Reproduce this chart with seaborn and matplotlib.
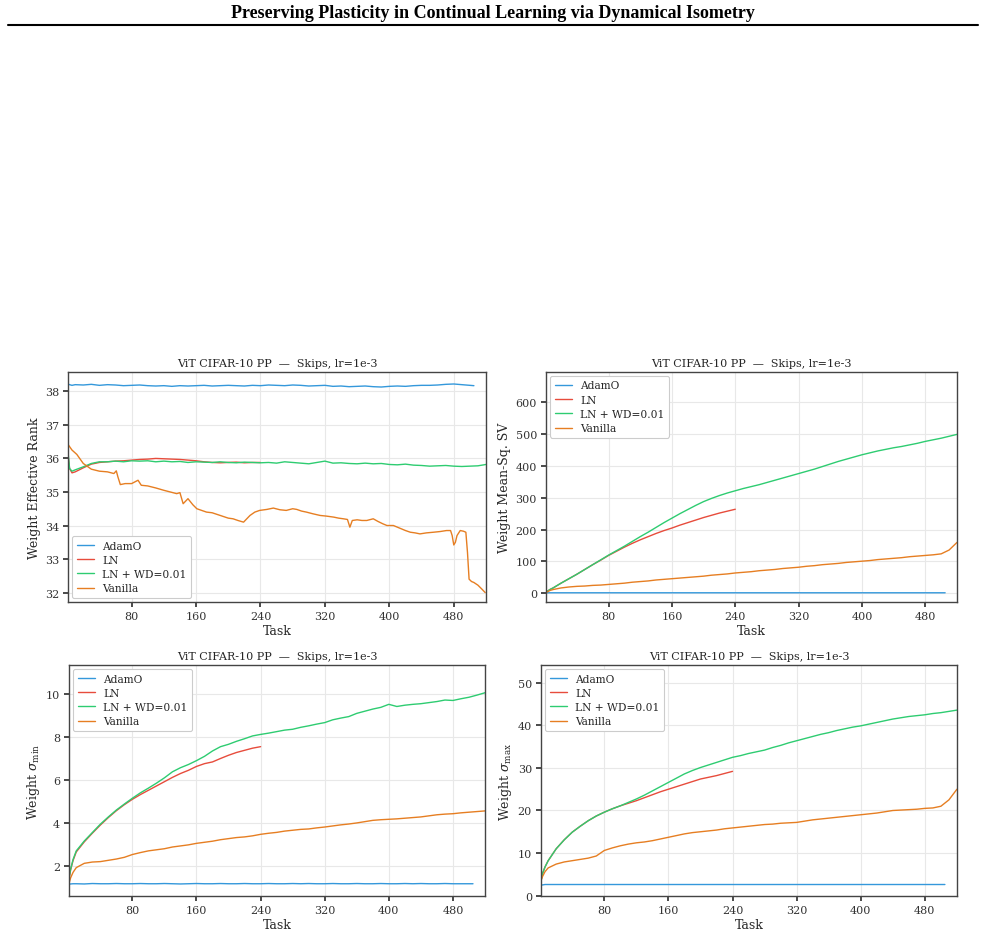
import pandas as pd
import matplotlib.pyplot as plt
import seaborn as sns

# ---- data ----
methods = ["AdamO", "LN", "LN + WD=0.01", "Vanilla"]
colors = ["#3498db", "#e74c3c", "#2ecc71", "#e67e22"]

# common task grid: 1, 3, 6, 10, 20, ..., 520
task_grid = [1, 3, 6] + list(range(10, 521, 10))
task_ln = task_grid[:27]               # LN stops at task 240
task_adamo = task_grid[:53] + [505]    # AdamO stops at task 505

# weight effective rank
rank_adamo = [38.22, 38.20, 38.18,
              38.20, 38.19, 38.21, 38.18, 38.20, 38.19, 38.17, 38.18, 38.19, 38.17,
              38.16, 38.17, 38.15, 38.17, 38.16, 38.17, 38.18, 38.16, 38.17, 38.18,
              38.17, 38.16, 38.18, 38.17, 38.19, 38.18, 38.17, 38.19, 38.18, 38.16,
              38.17, 38.18, 38.15, 38.16, 38.14, 38.15, 38.16, 38.14, 38.13, 38.15,
              38.16, 38.15, 38.17, 38.18, 38.18, 38.19, 38.21, 38.22, 38.20, 38.18,
              38.17]
rank_ln = [36.10, 35.70, 35.57,
           35.60, 35.72, 35.83, 35.88, 35.90, 35.92, 35.93, 35.95, 35.97, 35.98,
           36.00, 35.99, 35.98, 35.97, 35.95, 35.93, 35.90, 35.88, 35.87, 35.88,
           35.89, 35.87, 35.88, 35.88]
rank_lnwd = [36.20, 35.70, 35.62,
             35.66, 35.75, 35.85, 35.90, 35.90, 35.92, 35.90, 35.93, 35.92, 35.93,
             35.90, 35.92, 35.90, 35.91, 35.88, 35.90, 35.89, 35.88, 35.90, 35.88,
             35.87, 35.89, 35.88, 35.87, 35.88, 35.86, 35.90, 35.88, 35.86, 35.84,
             35.88, 35.92, 35.86, 35.87, 35.85, 35.84, 35.86, 35.84, 35.85, 35.82,
             35.81, 35.83, 35.80, 35.79, 35.77, 35.78, 35.79, 35.77, 35.76, 35.77,
             35.78, 35.82]
task_rank_van = [1, 6, 12, 20, 30, 40, 50, 58, 61, 63, 66, 72, 80, 88, 92, 100,
                 110, 120, 128, 136, 140, 144, 150, 156, 161, 167, 173, 180, 190,
                 200, 206, 212, 219, 227, 233, 239, 248, 256, 264, 272, 280, 285,
                 291, 297, 305, 314, 322, 331, 337, 343, 348, 351, 354, 360, 366,
                 372, 380, 386, 392, 397, 405, 413, 420, 426, 432, 438, 446, 455,
                 463, 471, 476, 478, 480, 482, 484, 488, 492, 495, 497, 499, 502,
                 505, 510, 515, 519]
rank_van = [36.42, 36.25, 36.12, 35.85, 35.68, 35.62, 35.60, 35.55, 35.63, 35.45,
            35.22, 35.25, 35.25, 35.35, 35.20, 35.18, 35.12, 35.05, 35.00, 34.95,
            34.98, 34.65, 34.80, 34.62, 34.50, 34.45, 34.40, 34.38, 34.30, 34.22,
            34.20, 34.15, 34.10, 34.30, 34.40, 34.45, 34.48, 34.52, 34.47, 34.45,
            34.50, 34.48, 34.43, 34.40, 34.35, 34.30, 34.28, 34.25, 34.22, 34.20,
            34.18, 33.95, 34.15, 34.17, 34.15, 34.15, 34.20, 34.12, 34.05, 34.00,
            34.00, 33.92, 33.85, 33.80, 33.78, 33.75, 33.78, 33.80, 33.82, 33.85,
            33.85, 33.70, 33.42, 33.50, 33.70, 33.85, 33.83, 33.80, 33.20, 32.40,
            32.33, 32.30, 32.22, 32.10, 32.00]

# weight mean-squared singular value
sv_adamo = [1.6, 1.7, 1.8] + [1.8] * 51
sv_ln = [3, 7, 12,
         17, 32, 46, 60, 75, 90, 104, 119, 132, 145,
         157, 168, 178, 188, 197, 205, 214, 222, 230, 238,
         245, 252, 258, 264]
sv_lnwd = [3, 7, 12,
           17, 32, 46, 60, 75, 90, 105, 120, 134, 148,
           163, 178, 192, 207, 222, 236, 250, 263, 276, 288,
           298, 307, 315, 322, 329, 335, 341, 348, 355, 362,
           369, 376, 383, 390, 398, 406, 414, 421, 428, 435,
           441, 447, 452, 457, 461, 466, 471, 477, 482, 487,
           493, 499]
sv_van = [2, 5, 9,
          12, 17, 20, 22, 23, 25, 26, 28, 30, 32,
          35, 37, 39, 42, 44, 46, 48, 50, 52, 54,
          57, 59, 61, 64, 66, 68, 71, 73, 75, 78,
          80, 82, 85, 87, 90, 92, 94, 97, 99, 101,
          103, 106, 108, 110, 112, 115, 117, 119, 121, 124,
          136, 160]

# weight sigma_min
smin_adamo = [1.15, 1.16, 1.17,
              1.17, 1.16, 1.18, 1.17, 1.17, 1.18, 1.17, 1.17, 1.18, 1.17,
              1.17, 1.18, 1.17, 1.16, 1.17, 1.18, 1.17, 1.17, 1.18, 1.17,
              1.17, 1.18, 1.17, 1.17, 1.18, 1.17, 1.17, 1.18, 1.17, 1.18,
              1.17, 1.17, 1.18, 1.17, 1.17, 1.18, 1.17, 1.17, 1.18, 1.17,
              1.17, 1.18, 1.17, 1.18, 1.17, 1.17, 1.18, 1.17, 1.17, 1.17,
              1.17]
smin_ln = [1.40, 1.82, 2.25,
           2.65, 3.12, 3.52, 3.90, 4.25, 4.57, 4.85, 5.10, 5.32, 5.52,
           5.72, 5.92, 6.12, 6.30, 6.45, 6.63, 6.76, 6.84, 7.00, 7.15,
           7.28, 7.38, 7.48, 7.55]
smin_lnwd = [1.45, 1.85, 2.30,
             2.70, 3.16, 3.55, 3.94, 4.28, 4.60, 4.88, 5.15, 5.40, 5.62,
             5.85, 6.10, 6.38, 6.57, 6.72, 6.90, 7.10, 7.35, 7.55, 7.66,
             7.80, 7.92, 8.05, 8.12, 8.18, 8.25, 8.32, 8.36, 8.45, 8.52,
             8.60, 8.67, 8.80, 8.88, 8.95, 9.10, 9.20, 9.30, 9.38, 9.52,
             9.42, 9.48, 9.52, 9.55, 9.60, 9.65, 9.72, 9.70, 9.78, 9.85,
             9.95, 10.06]
smin_van = [1.20, 1.45, 1.70,
            1.92, 2.12, 2.18, 2.20, 2.26, 2.32, 2.40, 2.53, 2.62, 2.70,
            2.75, 2.80, 2.88, 2.93, 2.98, 3.05, 3.10, 3.15, 3.22, 3.27,
            3.32, 3.35, 3.40, 3.47, 3.52, 3.56, 3.62, 3.66, 3.70, 3.72,
            3.77, 3.81, 3.86, 3.91, 3.95, 4.00, 4.06, 4.12, 4.15, 4.17,
            4.19, 4.22, 4.25, 4.28, 4.33, 4.38, 4.41, 4.43, 4.47, 4.50,
            4.53, 4.56]

# weight sigma_max
smax_adamo = [2.5, 2.5, 2.6] + [2.6] * 51
smax_ln = [3.5, 5.2, 6.7,
           8.2, 11.0, 13.1, 14.9, 16.3, 17.6, 18.7, 19.6, 20.4, 21.1,
           21.7, 22.3, 23.0, 23.7, 24.4, 25.0, 25.6, 26.2, 26.8, 27.4,
           27.8, 28.2, 28.7, 29.2]
smax_lnwd = [3.5, 5.2, 6.7,
             8.2, 11.0, 13.1, 14.9, 16.3, 17.6, 18.7, 19.6, 20.4, 21.1,
             21.9, 22.7, 23.6, 24.6, 25.6, 26.6, 27.6, 28.6, 29.4, 30.1,
             30.7, 31.3, 31.9, 32.5, 32.9, 33.4, 33.8, 34.2, 34.8, 35.3,
             35.9, 36.4, 36.9, 37.4, 37.9, 38.3, 38.8, 39.2, 39.6, 39.9,
             40.3, 40.7, 41.1, 41.5, 41.8, 42.1, 42.3, 42.5, 42.8, 43.0,
             43.3, 43.6]
smax_van = [3.5, 4.5, 5.6,
            6.5, 7.4, 7.9, 8.2, 8.5, 8.8, 9.3, 10.6, 11.2, 11.7,
            12.1, 12.4, 12.6, 12.9, 13.3, 13.7, 14.1, 14.5, 14.8, 15.0,
            15.2, 15.4, 15.7, 15.9, 16.1, 16.3, 16.5, 16.7, 16.8, 17.0,
            17.1, 17.2, 17.5, 17.8, 18.0, 18.2, 18.4, 18.6, 18.8, 19.0,
            19.2, 19.4, 19.7, 20.0, 20.1, 20.2, 20.3, 20.5, 20.6, 21.0,
            22.5, 25.0]

# ---- style ----
sns.set_theme(style="whitegrid")
plt.rcParams.update({
    "font.family": ["DejaVu Serif"],
    "mathtext.fontset": "dejavuserif",
    "axes.edgecolor": "#444444",
    "axes.linewidth": 1.0,
    "grid.color": "#e8e8e8",
    "grid.linewidth": 0.8,
    "xtick.bottom": True,
    "ytick.left": True,
    "xtick.color": "#333333",
    "ytick.color": "#333333",
    "xtick.major.size": 3.5,
    "ytick.major.size": 3.5,
    "xtick.labelsize": 8,
    "ytick.labelsize": 8,
})


def build_frame(series):
    rows = []
    for name, tasks, vals in series:
        for t, v in zip(tasks, vals):
            rows.append({"Task": t, "value": v, "Method": name})
    return pd.DataFrame(rows)


panels = [
    ("Weight Effective Rank", [
        ("AdamO", task_adamo, rank_adamo), ("LN", task_ln, rank_ln),
        ("LN + WD=0.01", task_grid, rank_lnwd), ("Vanilla", task_rank_van, rank_van)],
     (31.72, 38.58), "lower left", [0.0690, 0.3565, 0.4244, 0.2455]),
    ("Weight Mean-Sq. SV", [
        ("AdamO", task_adamo, sv_adamo), ("LN", task_ln, sv_ln),
        ("LN + WD=0.01", task_grid, sv_lnwd), ("Vanilla", task_grid, sv_van)],
     (-27, 695), "upper left", [0.5543, 0.3565, 0.4173, 0.2455]),
    (r"Weight $\sigma_{\rm min}$", [
        ("AdamO", task_adamo, smin_adamo), ("LN", task_ln, smin_ln),
        ("LN + WD=0.01", task_grid, smin_lnwd), ("Vanilla", task_grid, smin_van)],
     (0.6, 11.35), "upper left", [0.0701, 0.0427, 0.4223, 0.2465]),
    (r"Weight $\sigma_{\rm max}$", [
        ("AdamO", task_adamo, smax_adamo), ("LN", task_ln, smax_ln),
        ("LN + WD=0.01", task_grid, smax_lnwd), ("Vanilla", task_grid, smax_van)],
     (-0.1, 54.2), "upper left", [0.5492, 0.0427, 0.4223, 0.2465]),
]

fig = plt.figure(figsize=(9.85, 9.37), dpi=100)

# page header
fig.text(0.5, 1 - 13 / 937, "Preserving Plasticity in Continual Learning via Dynamical Isometry",
         ha="center", va="center", fontsize=13, fontweight="bold", color="black",
         family=["Liberation Serif", "DejaVu Serif"])
fig.add_artist(plt.Line2D([8 / 985, 978 / 985], [1 - 25.5 / 937, 1 - 25.5 / 937],
                          color="black", linewidth=1.5, transform=fig.transFigure))

for ylabel, series, ylim, loc, pos in panels:
    ax = fig.add_axes(pos)
    df = build_frame(series)
    sns.lineplot(data=df, x="Task", y="value", hue="Method", hue_order=methods,
                 palette=colors, linewidth=1.0, errorbar=None, ax=ax)
    ax.set_xlim(1, 520)
    ax.set_ylim(*ylim)
    ax.set_xticks([80, 160, 240, 320, 400, 480])
    ax.set_xlabel("Task", fontsize=9, labelpad=2.5)
    ax.set_ylabel(ylabel, fontsize=9, labelpad=3)
    ax.set_title("ViT CIFAR-10 PP  —  Skips, lr=1e-3", fontsize=8, pad=4)
    ax.tick_params(axis="both", pad=3)
    leg = ax.legend(loc=loc, fontsize=7.7, frameon=True, fancybox=True,
                    edgecolor="#cccccc", framealpha=1.0, handlelength=1.6,
                    handletextpad=0.8, labelspacing=0.4, borderaxespad=0.4)
    leg.get_frame().set_linewidth(0.8)
    for line in leg.get_lines():
        line.set_linewidth(1.0)

fig.savefig("out.png", dpi=100)
